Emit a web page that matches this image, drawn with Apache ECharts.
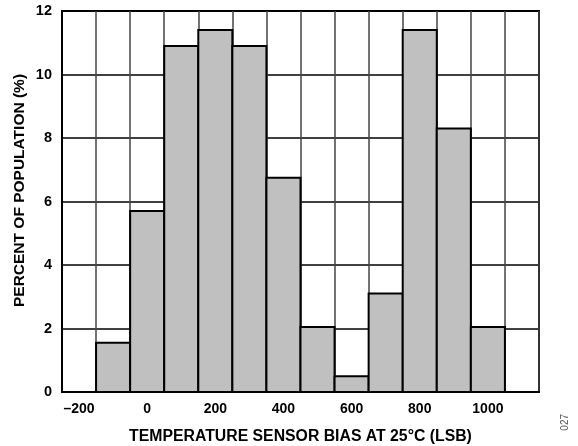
<!DOCTYPE html>
<html>
<head>
<meta charset="utf-8">
<script src="https://cdn.jsdelivr.net/npm/echarts@6/dist/echarts.min.js"></script>
<style>
html,body{margin:0;padding:0;background:#fff;}
#chart{width:578px;height:446px;}
</style>
</head>
<body>
<div id="chart"></div>
<script>
// Bin centers (LSB) and percent of population
var binCenters = [-100, 0, 100, 200, 300, 400, 500, 600, 700, 800, 900, 1000];
var percents = [1.55, 5.7, 10.9, 11.4, 10.9, 6.75, 2.05, 0.5, 3.1, 11.4, 8.3, 2.05];
var binWidth = 100;
var xTickLabels = [-200, 0, 200, 400, 600, 800, 1000];
var yTicks = [0, 2, 4, 6, 8, 10, 12];

var FONT = '"Liberation Sans", Arial, sans-serif';
var chart = echarts.init(document.getElementById('chart'));
var data = binCenters.map(function (c, i) { return [c, percents[i]]; });

chart.setOption({
  animation: false,
  backgroundColor: '#fff',
  grid: { left: 62, right: 39, top: 11, bottom: 54, outerBoundsMode: 'none', containLabel: false,
    show: true, borderColor: '#000', borderWidth: 2, backgroundColor: 'transparent' },
  xAxis: {
    type: 'value', min: -250, max: 1150, interval: 100,
    name: 'TEMPERATURE SENSOR BIAS AT 25°C (LSB)',
    nameLocation: 'middle', nameGap: 37,
    nameTextStyle: { fontFamily: FONT, fontWeight: 'bold', fontSize: 15.8, color: '#000' },
    axisLine: { show: true, onZero: false, lineStyle: { color: '#000', width: 2 } },
    axisTick: { show: false },
    splitLine: { show: true, lineStyle: { color: '#444', width: 1.5 } },
    axisLabel: {
      customValues: xTickLabels,
      margin: 10,
      fontFamily: FONT, fontWeight: 'bold', fontSize: 14, color: '#000',
      formatter: function (v) { return v < 0 ? '\u2013' + Math.abs(v) : String(v); }
    }
  },
  yAxis: {
    type: 'value', min: yTicks[0], max: yTicks[yTicks.length - 1], interval: 2,
    name: 'PERCENT OF POPULATION (%)',
    nameLocation: 'middle', nameGap: 34, nameMoveOverlap: false,
    nameTextStyle: { fontFamily: FONT, fontWeight: 'bold', fontSize: 15.5, color: '#000', padding: [0, 0, 0, 22] },
    axisLine: { show: true, onZero: false, lineStyle: { color: '#000', width: 2 } },
    axisTick: { show: false },
    splitLine: { show: true, lineStyle: { color: '#000', width: 1.5 } },
    axisLabel: { margin: 10, fontFamily: FONT, fontWeight: 'bold', fontSize: 14.5, color: '#000' }
  },
  series: [{
    type: 'custom',
    data: data,
    encode: { x: 0, y: 1 },
    renderItem: function (params, api) {
      var c = api.value(0), v = api.value(1);
      var p1 = api.coord([c - binWidth / 2, v]);
      var p2 = api.coord([c + binWidth / 2, 0]);
      return {
        type: 'rect',
        shape: { x: p1[0], y: p1[1], width: p2[0] - p1[0], height: p2[1] - p1[1] },
        style: { fill: '#c0c0c0', stroke: '#000', lineWidth: 2 }
      };
    }
  }],
  graphic: [{
    type: 'text', left: 560, top: 414, rotation: Math.PI / 2,
    style: { text: '027', fontFamily: FONT, fontSize: 10, fill: '#555' }
  }]
});
</script>
</body>
</html>
